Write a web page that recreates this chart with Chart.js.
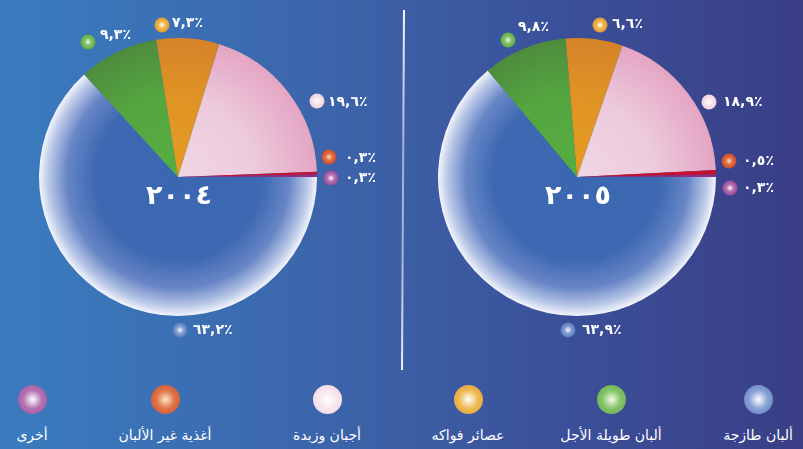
<!DOCTYPE html>
<html lang="ar">
<head>
<meta charset="utf-8">
<script src="https://cdn.jsdelivr.net/npm/chart.js@4/dist/chart.umd.min.js"></script>
<style>
  html, body { margin: 0; padding: 0; }
  body {
    width: 803px; height: 449px; overflow: hidden; position: relative;
    background: linear-gradient(90deg, #3a7cbf 0%, #3c62a8 45%, #3b509a 70%, #393e85 100%);
    font-family: "DejaVu Sans", sans-serif;
  }
  canvas { position: absolute; top: 0; }
  #c1 { left: 0; }
  #c2 { left: 400px; }
  #divider {
    position: absolute; left: 402px; top: 10px; width: 1.6px; height: 360px;
    transform: rotate(0.32deg);
    background: linear-gradient(180deg, rgba(255,255,255,0.95) 0%, rgba(255,255,255,0.5) 40%, rgba(255,255,255,0.55) 70%, rgba(255,255,255,0.9) 100%);
  }
  .leg { position: absolute; width: 160px; margin-left: -80px; text-align: center; top: 385px; }
  .leg .dot { width: 29px; height: 29px; border-radius: 50%; margin: 0 auto; }
  .leg .txt { color: #fff; font-size: 14px; margin-top: 11px; direction: rtl; white-space: nowrap; line-height: 20px; }
</style>
</head>
<body>
<canvas id="c1" width="400" height="370"></canvas>
<canvas id="c2" width="403" height="370"></canvas>
<div id="divider"></div>
<div id="legend"></div>
<script>
// ---- data ----
const categories = ['ألبان طازجة', 'ألبان طويلة الأجل', 'عصائر فواكه', 'أجبان وزبدة', 'أغذية غير الألبان', 'أخرى'];
const years = ['٢٠٠٤', '٢٠٠٥'];
const values2004 = [63.2, 9.3, 7.3, 19.6, 0.3, 0.3];
const values2005 = [63.9, 9.8, 6.6, 18.9, 0.5, 0.3];

// ---- styles ----
const dotColors = [
  ['#ffffff', '#8aa3d6', '#5578bd'],
  ['#f2fbe9', '#86c46a', '#5ea944'],
  ['#ffffff', '#efbb55', '#e09a2c'],
  ['#ffffff', '#f9e6ee', '#f1d0de'],
  ['#fde3c7', '#e07448', '#cc4a2a'],
  ['#ffffff', '#b774b4', '#964a96']
];
const legendX = [758, 611, 468, 327, 165, 32];
const labelLayout = [
  // [dotDx, dotDy, textDx, textDy] relative to pie centre
  [[2, 153, 13, 0], [-90, -135, 12, -7], [-16, -152, 10, -2], [139, -76, 11, 1], [151, -20, 16, 1], [153, 1, 14, 0]],
  [[-9, 153, 14, 0], [-69, -137, 10, -13], [23, -152, 12, -1], [132, -75, 14, 0], [152, -16, 14, 0], [153, 11, 13, 0]]
];

const arabicDigits = s => s.replace(/[0-9]/g, d => '٠١٢٣٤٥٦٧٨٩'[d]);
const fmt = v => arabicDigits(v.toFixed(1)).replace('.', ',') + '٪';
const radial = (c) => `radial-gradient(circle at 50% 50%, ${c[0]} 0%, ${c[1]} 45%, ${c[2]} 100%)`;

// legend
const legend = document.getElementById('legend');
categories.forEach((name, i) => {
  const el = document.createElement('div');
  el.className = 'leg';
  el.style.left = legendX[i] + 'px';
  el.innerHTML = `<div class="dot" style="background:${radial(dotColors[i])}"></div><div class="txt">${name}</div>`;
  legend.appendChild(el);
});

function sliceFill(context) {
  const i = context.dataIndex;
  const chart = context.chart;
  const area = chart.chartArea;
  const flat = ['#3c68b0', '#54a640', '#df9324', '#eccbdc', '#c8102f', '#8a2f86'];
  if (!area || i > 3) return flat[i];
  const cx = (area.left + area.right) / 2, cy = (area.top + area.bottom) / 2;
  const R = Math.min(area.width, area.height) / 2;
  const g = chart.ctx.createRadialGradient(cx, cy, 0, cx, cy, R);
  if (i === 0) {
    g.addColorStop(0, '#3b67b0'); g.addColorStop(0.6, '#3d69b2');
    g.addColorStop(0.8, '#6886c6'); g.addColorStop(0.93, '#b9c7e7');
    g.addColorStop(1, '#f3f5fb');
  } else if (i === 1) {
    g.addColorStop(0, '#56ae41'); g.addColorStop(0.6, '#54a640'); g.addColorStop(1, '#4e8c3d');
  } else if (i === 2) {
    g.addColorStop(0, '#e49c22'); g.addColorStop(0.6, '#df9324'); g.addColorStop(1, '#d6832a');
  } else {
    g.addColorStop(0, '#f1d6e4'); g.addColorStop(0.55, '#eccbdc'); g.addColorStop(1, '#e4a5c3');
  }
  return g;
}

const labelPlugin = {
  id: 'sliceLabels',
  afterDraw(chart) {
    const idx = chart.options.plugins.sliceLabels.index;
    const meta = chart.getDatasetMeta(0);
    const ctx = chart.ctx;
    const arc0 = meta.data[0];
    const cx = arc0.x, cy = arc0.y;
    ctx.save();
    // year in the centre
    ctx.fillStyle = '#ffffff';
    ctx.font = 'bold 27px "DejaVu Sans"';
    ctx.textAlign = 'center';
    ctx.textBaseline = 'middle';
    ctx.letterSpacing = '6px';
    ctx.fillText(years[idx], cx + 1, cy + 20);
    ctx.letterSpacing = '0px';
    const vals = chart.data.datasets[0].data;
    meta.data.forEach((arc, i) => {
      const L = labelLayout[idx][i];
      const dx = cx + L[0], dy = cy + L[1];
      const c = dotColors[i];
      const g = ctx.createRadialGradient(dx, dy, 0, dx, dy, 7.5);
      g.addColorStop(0, c[0]); g.addColorStop(0.45, c[1]); g.addColorStop(1, c[2]);
      ctx.beginPath(); ctx.arc(dx, dy, 7.5, 0, Math.PI * 2); ctx.fillStyle = g; ctx.fill();
      ctx.fillStyle = '#ffffff';
      ctx.font = 'bold 14px "DejaVu Sans"';
      ctx.textAlign = 'left';
      ctx.textBaseline = 'middle';
      ctx.direction = 'ltr';
      ctx.letterSpacing = '2px';
      ctx.fillText(fmt(vals[i]), dx + L[2], dy + L[3]);
      ctx.letterSpacing = '0px';
    });
    ctx.restore();
  }
};

function makePie(id, values, idx, padding) {
  return new Chart(document.getElementById(id), {
    type: 'pie',
    data: {
      labels: categories,
      datasets: [{
        data: values,
        backgroundColor: sliceFill,
        borderWidth: 0
      }]
    },
    options: {
      responsive: false,
      animation: false,
      rotation: 90,
      layout: { padding },
      plugins: {
        legend: { display: false },
        tooltip: { enabled: false },
        sliceLabels: { index: idx }
      }
    },
    plugins: [labelPlugin]
  });
}

makePie('c1', values2004, 0, { left: 39, right: 83, top: 38, bottom: 54 });
makePie('c2', values2005, 1, { left: 38, right: 87, top: 38, bottom: 54 });
</script>
</body>
</html>
